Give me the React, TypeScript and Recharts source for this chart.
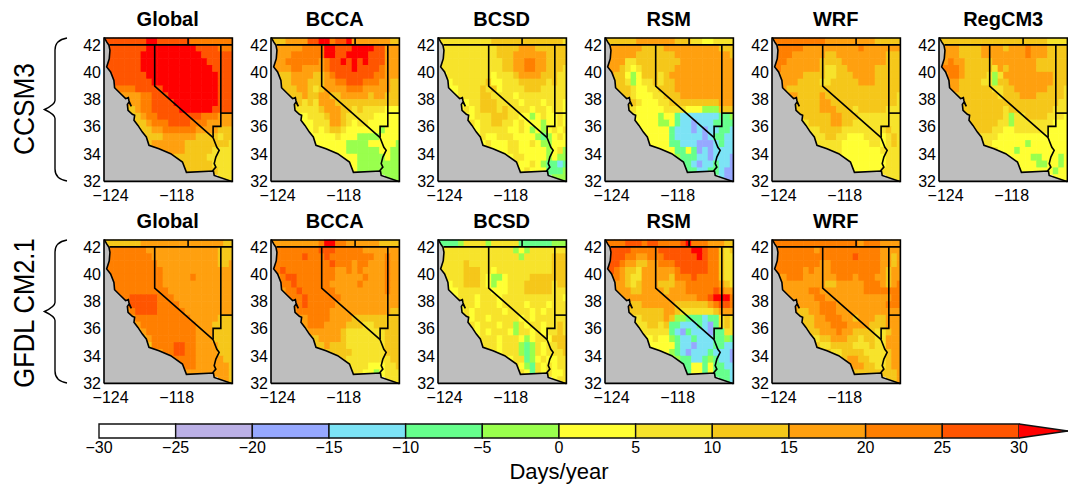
import React from 'react';
import { ComposedChart, Area, Line, Scatter, XAxis, YAxis, ReferenceArea } from 'recharts';

// colour classes of the scale, lowest to highest
const BIN_EDGES = [-30, -25, -20, -15, -10, -5, 0, 5, 10, 15, 20, 25, 30];
const BIN_COLORS = ['#FFFFFF', '#BBB0E6', '#96A8FF', '#7CE3F5', '#66FF8C', '#99FF4D', '#FFFF33', '#F7E32B', '#F5C71A', '#FFA00F', '#FF7F00', '#FF5500'];
const OVER_COLOR = '#FF0000';
const OCEAN = '#BEBEBE';

// one letter per 0.5 degree cell (days/year, mid of class)
const CELL_DAYS: Record<string, number> = {
  v: -22.5, p: -17.5, c: -12.5, g: -7.5, l: -2.5,
  '0': 2.5, '1': 7.5, '2': 12.5, '3': 17.5, '4': 22.5, '5': 27.5, '6': 32.5,
};

const CCSM3_GLOBAL = [
  '55555555 66 555555 44444444', '5555555 666666666 5555 444', '555555 66666666666 555555', '555555 666666666666 55555',
  '5 555555 6666666666666 5555', '5555555 6666666666666 555', '55555555 666666666666 555', '4444 55555 6666666666 555',
  '3333 44 555 666666666 555', '333 44 5555 66666666 555', '22 3 44 55555 666666 5 555', '22 3 44 55555555 444 333',
  '222 3 4 44 5555 444 33 333', '122 33 444444 3333 222', '2222 333333 2222 122', '22 333333 222222 221',
  '333333 222221 111', '3322 222211 111', '22222221 111', '2222222 111', '111',
];
const CCSM3_BCCA = [
  '222333355664556333333322', '3333344 44 665 55 6666 55 333', '3334444 44 665 56 6665 55 333', '3344444 43 455 65 6565 55 333',
  '3 3334433 33 455 55 6555 54 333', '2223333 22 345 55 5555 44 333', '2223332 22 334 45 5544 43 322', '2223321 23 33 34 4433 33 322',
  '222322 33 22 33 3332 33 222', '22121 33 32 22 2222 22 222', '11111 23 33 22 1211 11 000', '0011 12 33 21 1111 00 000',
  '0001 11 33 21 0110 00 000', '001 01 22 10 0000 0l 000', '00 00 01 00 0lll l0 000', '00 00 00 0l lll0 00 00l',
  '00 00 0l llll l0 0ll', '00 00 0lll ll 0ll', '00 0lll ll lll', '0 0lll ll lll', 'lll',
];
const CCSM3_BCSD = [
  '111111111122222222222221', '1111111 11 122 22 3332 22 222', '1111111 11 122 23 3333 32 222', '1111111 11 112 23 3443 32 222',
  '1 1111111 11 112 23 3443 32 221', '0111111 11 011 12 3333 22 211', '0011111 12 001 11 2222 21 211', '0011112 12 01 11 1222 11 111',
  '011112 21 11 10 1111 11 111', '00112 22 11 11 0111 01 110', '01012 22 12 11 1101 10 110', '0011 12 22 11 00l0 10 010',
  '0101 12 21 10 1000 l0 010', '001 11 11 00 10l0 l0 101', '01 00 11 10 000l gl 010', '00 10 00 11 0010 ll 000',
  '10 00 11 0000 0l 01l', '00 01 1000 0l 0ll', '11 0010 lg gcg', '1 0100 0g ggl', 'lll',
];
const CCSM3_RSM = [
  '222222333333322211001111', '3333332 22 233 33 3333 33 222', '3333322 22 222 33 3333 33 332', '3331122 22 222 23 3333 33 333',
  '3 3321012 22 222 33 3333 33 333', '3220l02 22 123 33 3333 33 333', '2221l01 12 122 33 3333 33 333', '2221001 12 22 33 3333 33 333',
  '221000 11 22 23 3333 33 333', '22100 01 12 22 2222 22 333', '11000 00 11 11 000l ll 222', '0000 0l 00 gc cccc cc ggl',
  '0000 0l l0 gc cpcc cg ggg', '000 00 0g cc cpcp cc ggc', '00 00 0g cc cccp cg gcc', '00 00 0g gc ccpp pc gcc',
  '00 00 gg 0gpc pc ccc', '00 lg ggcc pc ccp', '0g gcpc cg ccp', 'g ggcc gg cpp', 'cpp',
];
const CCSM3_WRF = [
  '444444444433333333322222', '4444433 33 333 33 3433 33 333', '4443333 33 223 33 3333 33 222', '4433333 32 222 33 3333 33 222',
  '3 4333333 32 112 23 3333 22 222', '3333322 22 112 22 3333 22 222', '3333222 21 122 22 2333 22 222', '3222222 22 22 22 2222 22 222',
  '332222 32 22 22 2222 22 221', '22222 33 22 22 2222 22 221', '22222 33 32 22 1222 22 111', '2222 22 33 22 2111 11 111',
  '1122 22 33 22 1111 11 111', '111 22 22 11 1111 11 211', '11 12 21 10 0011 10 121', '11 11 11 00 0001 10 121',
  '11 11 00 0000 01 111', '11 00 0000 00 111', '10 0000 00 111', '1 0000 01 111', '111',
];
const CCSM3_REGCM3 = [
  '222222222222222222221111', '3332222 33 332 33 3433 32 222', '3332222 33 333 33 3433 32 222', '3433222 22 333 33 3332 22 222',
  '3 4443222 22 132 33 3332 22 222', '3443222 21 l13 33 3333 33 222', '3332222 11 l22 33 3333 33 222', '3322222 21 12 23 3333 32 221',
  '222222 22 12 22 3332 22 221', '22222 22 22 22 2222 22 211', '22222 22 21 22 2222 22 111', '2222 22 21 l1 1222 21 110',
  '2222 22 11 l1 1111 11 000', '222 21 10 01 1111 10 000', '11 11 00 00 0000 00 000', '11 10 00 00 0l00 00 000',
  '11 00 0l 0000 00 000', '00 00 00ll 00 0l0', '00 000l l0 0l0', '0 0000 00 l00', '000',
];
const GFDL_GLOBAL = [
  '222222233333333333333322', '4444444 33 333 33 3333 33 222', '4444444 43 333 33 3333 33 222', '4444444 44 333 33 3333 33 223',
  '3 4444444 44 433 33 3333 33 333', '4444444 44 433 33 3433 33 333', '4444444 44 433 33 3333 33 333', '4444444 44 43 33 3333 33 333',
  '445555 54 44 33 3333 33 333', '45555 54 44 43 3333 33 333', '34555 54 44 44 3333 33 333', '3444 44 44 44 4333 33 222',
  '2344 44 44 44 4433 32 222', '234 44 44 44 4433 32 222', '23 44 44 44 4433 32 222', '12 44 44 55 4433 33 222',
  '33 44 55 4433 33 222', '44 44 4433 33 322', '44 4433 33 332', '3 3333 33 332', '332',
];
const GFDL_BCCA = [
  '333333333466443333332222', '4444444 45 554 44 4433 33 333', '4444454 44 544 44 4444 33 433', '4444444 44 454 44 3443 33 433',
  '3 4544444 44 443 34 3433 33 433', '3455444 44 443 33 3343 33 433', '3445444 44 433 33 3433 33 433', '3445444 44 43 33 3333 33 433',
  '444544 44 44 33 3333 33 333', '44544 44 43 33 3333 33 333', '34444 44 33 33 3333 33 322', '3344 44 33 33 2222 22 222',
  '3344 43 33 32 2211 22 222', '233 33 33 21 1111 11 222', '22 33 33 21 1111 11 222', '12 23 22 21 1111 11 222',
  '22 22 22 1111 11 222', '22 21 1111 11 122', '21 1110 00 112', '2 1100 l0 111', '111',
];
const GFDL_BCSD = [
  'ggggl1111l11111gggggglll', '1111111 11 111 1l 0l11 11 111', '1111111 11 111 11 l111 11 222', '1111211 11 111 11 1111 11 222',
  '1 1111222 11 011 11 1111 11 222', '1111222 10 ll0 11 1122 22 222', '0011222 10 l00 11 1222 22 122', '0011111 10 00 11 1222 22 111',
  '011101 11 01 11 1111 11 110', '01101 11 01 11 1011 10 111', '01011 11 10 11 1101 01 111', '1011 01 11 11 0101 11 111',
  '0101 11 01 1l 1011 01 121', '101 01 11 0l 1101 01 121', '01 11 01 11 0l01 10 222', '01 11 01 11 lgl1 01 122',
  '11 01 11 lgl1 01 112', '11 01 1gl0 10 011', '11 0lg1 01 011', '1 10g1 01 001', '011',
];
const GFDL_RSM = [
  '444455545544445644433322', '5555444 44 555 55 5665 44 212', '5554433 44 455 55 5565 44 211', '5543322 33 444 55 5555 44 211',
  '4 5432213 33 333 45 5555 44 211', '4432113 33 332 44 4544 44 211', '4332123 33 222 33 4444 44 321', '3332233 33 23 33 4444 45 433',
  '333333 33 33 33 3344 56 664', '32233 33 33 22 2222 34 554', '22222 22 33 21 1111 12 333', '1122 22 32 ll gggc gg 121',
  '0112 21 2g gc ccgc pg 121', '111 11 1g cp gccc pg g11', '00 10 0l gc cgcc cg glg', '00 00 00 gc cpcc cg gcc',
  '00 0l gc pccc gc ccp', '00 lg gccg lg ccp', '0g g00g 0g gcc', 'g g00g 0g ggc', 'ggc',
];
const GFDL_WRF = [
  '444444444444444434443333', '4444444 34 444 44 4444 43 333', '4444444 44 444 44 5444 43 323', '4444444 43 344 44 4444 43 323',
  '3 4444434 33 344 44 4444 43 233', '3344433 33 334 44 3444 33 233', '3333333 33 223 33 3344 43 234', '3333344 33 33 33 3344 44 444',
  '333334 43 33 33 3333 33 344', '33333 44 43 33 3333 33 444', '32233 44 43 33 3333 33 333', '2223 34 44 33 2333 22 333',
  '1223 33 44 43 3332 22 333', '122 33 34 33 2222 11 233', '11 22 33 32 2122 11 333', '12 11 22 22 1112 11 333',
  '22 11 22 2211 11 233', '21 23 3221 11 233', '23 3322 11 233', '3 2222 22 223', '223',
];

const LON_MIN = -124.6;
const LON_MAX = -112.95;
const LAT_MIN = 32;
const LAT_MAX = 42.5;
const LON_TICKS = [-124, -118];
const LAT_TICKS = [32, 34, 36, 38, 40, 42];
const LEGEND_TICKS = [-30, -25, -20, -15, -10, -5, 0, 5, 10, 15, 20, 25, 30];
const LEGEND_TIP = 33.2;

const COAST = [
  [-124.6, 42.5], [-124.55, 42.5], [-124.36, 42.21], [-124.15, 41.96], [-124.06, 41.6], [-124.12, 40.99], [-124.36, 40.38],
  [-124.0, 40.01], [-123.7, 39.4], [-123.64, 38.86], [-123.09, 38.42], [-122.64, 38.06], [-122.39, 38.13], [-122.33, 37.89],
  [-122.12, 37.5], [-122.33, 37.81], [-122.48, 37.64], [-122.42, 37.2], [-122.03, 36.91], [-121.82, 36.84], [-121.88, 36.47],
  [-121.52, 36.1], [-121.12, 35.61], [-120.76, 35.25], [-120.52, 34.64], [-119.61, 34.39], [-118.55, 34.03], [-117.48, 33.42],
  [-117.12, 32.66], [-114.67, 32.76], [-114.6, 32.44], [-113.0, 32.0], [-112.95, 32.0],
];
const BORDER_NORTH = [[-124.1, 42], [-112.95, 42]];
const BORDER_OR_ID = [[-116.97, 42.5], [-116.97, 42]];
const BORDER_CA_NV = [[-120, 42], [-120, 38.98], [-114.7, 35.2]];
const BORDER_CA_AZ = [[-114.7, 35.2], [-114.36, 34.5], [-114.15, 34.27], [-114.45, 33.78], [-114.6, 33.3], [-114.45, 33.05], [-114.76, 32.76]];
const BORDER_NV_EAST = [[-114, 42], [-114, 36.03], [-114.7, 36.03], [-114.7, 35.2]];
const BORDER_UT_AZ = [[-114, 37], [-112.95, 37]];
const FRAME = [[LON_MIN, LAT_MIN], [LON_MIN, LAT_MAX], [LON_MAX, LAT_MAX], [LON_MAX, LAT_MIN], [LON_MIN, LAT_MIN]];

const TOP_ROW = [
  { title: 'Global', rows: CCSM3_GLOBAL }, { title: 'BCCA', rows: CCSM3_BCCA }, { title: 'BCSD', rows: CCSM3_BCSD },
  { title: 'RSM', rows: CCSM3_RSM }, { title: 'WRF', rows: CCSM3_WRF }, { title: 'RegCM3', rows: CCSM3_REGCM3 },
];
const BOTTOM_ROW = [
  { title: 'Global', rows: GFDL_GLOBAL }, { title: 'BCCA', rows: GFDL_BCCA }, { title: 'BCSD', rows: GFDL_BCSD },
  { title: 'RSM', rows: GFDL_RSM }, { title: 'WRF', rows: GFDL_WRF },
];

const PANEL_LEFTS = [103.5, 270.5, 437.5, 604.5, 771.5, 939];
const PANEL_W = 128.4;
const PANEL_H = 143.4;
const AXIS_W = 36;
const TOP_PAD = 10;
const AXIS_H = 30;
const FONT = '"Liberation Sans", Arial, sans-serif';
const CELL_W = (0.5 * PANEL_W) / (LON_MAX - LON_MIN);
const CELL_H = (0.5 * PANEL_H) / (LAT_MAX - LAT_MIN);

const pts = (list: number[][]) => list.map(([lon, lat]) => ({ lon, lat }));
const minus = (v: number) => (v < 0 ? `\u2212${Math.abs(v)}` : `${v}`);

const colorFor = (days: number) => {
  if (days > 30) return OVER_COLOR;
  const i = BIN_EDGES.findIndex((e) => days < e);
  return BIN_COLORS[Math.max(i - 1, 0)];
};

// rows are right aligned, ocean cells on the left are left out
const toCells = (rows: string[]) => {
  const cells: { lon: number; lat: number; days: number }[] = [];
  rows.forEach((row, r) => {
    const full = row.replace(/ /g, '').padStart(24, '.');
    full.split('').forEach((ch, k) => {
      if (ch === '.') return;
      cells.push({ lon: -124.5 + k * 0.5, lat: 42.25 - r * 0.5, days: CELL_DAYS[ch] });
    });
  });
  return cells;
};

const CellShape = (props: any) => {
  const left = Math.max(props.cx - CELL_W / 2 - 0.3, AXIS_W);
  const right = Math.min(props.cx + CELL_W / 2 + 0.3, AXIS_W + PANEL_W);
  return (
    <rect
      x={left}
      y={props.cy - CELL_H / 2 - 0.3}
      width={right - left}
      height={CELL_H + 0.6}
      fill={colorFor(props.payload.days)}
    />
  );
};

const BORDERS = [BORDER_NORTH, BORDER_OR_ID, BORDER_CA_NV, BORDER_CA_AZ, BORDER_NV_EAST, BORDER_UT_AZ];

const MapPanel = ({ rows, left, top }: { rows: string[]; left: number; top: number }) => (
  <div style={{ position: 'absolute', left: left - AXIS_W, top: top - TOP_PAD }}>
    <ComposedChart
      width={AXIS_W + PANEL_W + 3}
      height={TOP_PAD + PANEL_H + AXIS_H}
      margin={{ top: TOP_PAD, right: 3, left: 0, bottom: 0 }}
    >
      <XAxis
        type="number"
        dataKey="lon"
        domain={[LON_MIN, LON_MAX]}
        ticks={LON_TICKS}
        interval={0}
        height={AXIS_H}
        axisLine={false}
        tickLine={false}
        tickSize={0}
        tickMargin={8}
        tickFormatter={minus}
        tick={{ fontSize: 16, fill: '#000', fontFamily: FONT }}
      />
      <YAxis
        type="number"
        dataKey="lat"
        domain={[LAT_MIN, LAT_MAX]}
        ticks={LAT_TICKS}
        interval={0}
        width={AXIS_W}
        axisLine={false}
        tickLine={false}
        tickSize={0}
        tickMargin={3}
        tick={{ fontSize: 16, fill: '#000', fontFamily: FONT }}
      />
      <Scatter data={toCells(rows)} shape={CellShape} isAnimationActive={false} zIndex={50} />
      <Area
        data={pts(COAST)}
        dataKey="lat"
        type="linear"
        baseValue={LAT_MIN}
        fill={OCEAN}
        fillOpacity={1}
        stroke="none"
        dot={false}
        activeDot={false}
        isAnimationActive={false}
        zIndex={100}
      />
      <Line data={pts(COAST)} dataKey="lat" type="linear" stroke="#000" strokeWidth={1.6} dot={false} activeDot={false} isAnimationActive={false} zIndex={400} />
      {BORDERS.map((b, i) => (
        <Line key={i} data={pts(b)} dataKey="lat" type="linear" stroke="#000" strokeWidth={1.6} dot={false} activeDot={false} isAnimationActive={false} zIndex={400} />
      ))}
      <Line data={pts(FRAME)} dataKey="lat" type="linear" stroke="#000" strokeWidth={1.6} dot={false} activeDot={false} isAnimationActive={false} zIndex={400} />
    </ComposedChart>
  </div>
);

const ColorBar = () => (
  <div style={{ position: 'absolute', left: 0, top: 414 }}>
    <ComposedChart width={1068} height={50} margin={{ top: 10, right: 0, left: 99, bottom: 0 }}>
      <XAxis
        type="number"
        dataKey="v"
        domain={[-30, LEGEND_TIP]}
        ticks={LEGEND_TICKS}
        interval={0}
        height={26}
        axisLine={false}
        tickLine={false}
        tickSize={0}
        tickMargin={4}
        tickFormatter={minus}
        tick={{ fontSize: 16, fill: '#000', fontFamily: FONT }}
      />
      <YAxis hide type="number" domain={[0, 1]} />
      {BIN_COLORS.map((c, i) => (
        <ReferenceArea key={i} x1={BIN_EDGES[i]} x2={BIN_EDGES[i + 1]} y1={0} y2={1} fill={c} fillOpacity={1} stroke="#111" strokeWidth={1.4} />
      ))}
      <Area
        data={[{ v: 30, band: [0, 1] }, { v: LEGEND_TIP, band: [0.5, 0.5] }]}
        dataKey="band"
        type="linear"
        fill={OVER_COLOR}
        fillOpacity={1}
        stroke="#111"
        strokeWidth={1.4}
        dot={false}
        activeDot={false}
        isAnimationActive={false}
      />
    </ComposedChart>
  </div>
);

const textAt = (x: number, y: number, size: number, bold = false): React.CSSProperties => ({
  position: 'absolute',
  left: x,
  top: y,
  transform: 'translate(-50%, -50%)',
  fontFamily: FONT,
  fontSize: size,
  fontWeight: bold ? 700 : 400,
  whiteSpace: 'nowrap',
  color: '#000',
});

const Brace = ({ top, bottom }: { top: number; bottom: number }) => {
  const mid = (top + bottom) / 2;
  return (
    <path
      d={`M67 ${top} Q55 ${top + 2} 55 ${top + 12} L55 ${mid - 9} Q55 ${mid - 5} 44.5 ${mid} Q55 ${mid + 5} 55 ${mid + 9} L55 ${bottom - 12} Q55 ${bottom - 2} 67 ${bottom}`}
      fill="none"
      stroke="#000"
      strokeWidth={1.4}
    />
  );
};

export default function App() {
  return (
    <div style={{ position: 'absolute', left: 0, top: 0, width: 1068, height: 490, overflow: 'hidden', background: '#fff' }}>
      <svg width={80} height={400} style={{ position: 'absolute', left: 0, top: 0 }}>
        <Brace top={38} bottom={181} />
        <Brace top={240} bottom={383} />
      </svg>
      <div style={{ ...textAt(24, 109, 30), transform: 'translate(-50%, -50%) rotate(-90deg) scaleX(0.875)' }}>CCSM3</div>
      <div style={{ ...textAt(24, 313, 30), transform: 'translate(-50%, -50%) rotate(-90deg) scaleX(0.85)' }}>GFDL CM2.1</div>
      {TOP_ROW.map((p, i) => (
        <React.Fragment key={p.title}>
          <div style={textAt(PANEL_LEFTS[i] + PANEL_W / 2, 19, 20, true)}>{p.title}</div>
          <MapPanel rows={p.rows} left={PANEL_LEFTS[i]} top={37.7} />
        </React.Fragment>
      ))}
      {BOTTOM_ROW.map((p, i) => (
        <React.Fragment key={p.title}>
          <div style={textAt(PANEL_LEFTS[i] + PANEL_W / 2, 221, 20, true)}>{p.title}</div>
          <MapPanel rows={p.rows} left={PANEL_LEFTS[i]} top={239.7} />
        </React.Fragment>
      ))}
      <ColorBar />
      <div style={textAt(559, 472, 22)}>Days/year</div>
    </div>
  );
}
